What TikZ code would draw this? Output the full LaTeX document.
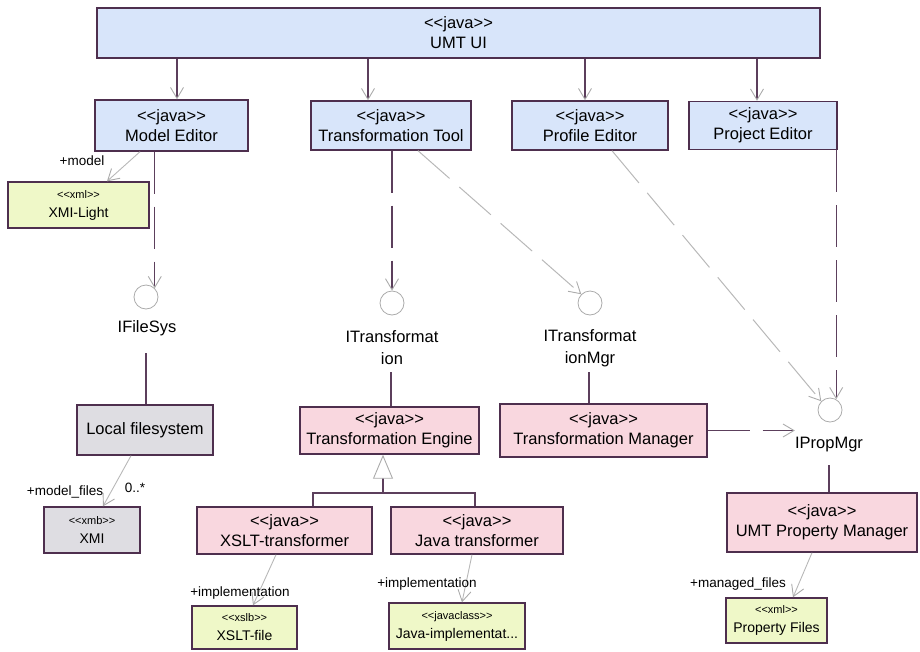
\documentclass[tikz,border=0pt]{standalone}
\usepackage{fontspec}
\setmainfont{Liberation Sans}[Ligatures=TeXOff]
\usetikzlibrary{arrows.meta,calc}

\definecolor{edge}{HTML}{4E2F4E}
\definecolor{link}{HTML}{5C3F5C}
\definecolor{tipgray}{HTML}{ABABAB}
\definecolor{assocgray}{HTML}{B8B8B8}
\definecolor{javablue}{HTML}{D8E5FA}
\definecolor{implpink}{HTML}{F9D7DF}
\definecolor{sysgray}{HTML}{DEDDE2}
\definecolor{filegreen}{HTML}{EFF8C8}

\newcommand\smallstereo[1]{{\fontsize{11}{12}\selectfont #1}}

\tikzset{
  cls/.style={draw=edge, line width=1.4pt, inner sep=0pt, align=center,
    font=\fontsize{16.5}{20}\selectfont},
  uibox/.style={cls, fill=javablue},
  implbox/.style={cls, fill=implpink},
  sysbox/.style={cls, fill=sysgray},
  artbox/.style={cls, fill=filegreen, font=\fontsize{14}{19}\selectfont},
  iface/.style={circle, draw=tipgray, line width=0.8pt, minimum size=24pt, inner sep=0pt},
  ilabel/.style={font=\fontsize{16.5}{22}\selectfont, align=center, inner sep=0pt},
  rolelabel/.style={font=\fontsize{13.5}{14}\selectfont, inner sep=0pt},
  barb/.style={-{Straight Barb[length=11pt, width=13pt, color=tipgray, line width=0.9pt]}},
  dep/.style={draw=link, line width=1.3pt, dash pattern=on 42pt off 13pt, barb},
  deplight/.style={dep, draw=assocgray, line width=1pt},
  assoc/.style={draw=assocgray, line width=0.9pt, barb},
  stem/.style={draw=link, line width=1.3pt},
  gen/.style={stem, -{Triangle[open, length=24pt, width=20pt, color=tipgray, fill=white, line width=0.9pt]}}
}

\begin{document}
\begin{tikzpicture}[x=1pt, y=-1pt]
\useasboundingbox (0,0) rectangle (920,651);

% top-level UI and the editors
\node[uibox, minimum width=723pt, minimum height=50pt] (umtui) at (458.5,33) {<<java>>\\UMT UI};
\node[uibox, minimum width=153pt, minimum height=51pt] (model) at (171.5,125.5) {<<java>>\\Model Editor};
\node[uibox, minimum width=160pt, minimum height=49pt] (ttool) at (391,125.5) {<<java>>\\Transformation Tool};
\node[uibox, minimum width=156pt, minimum height=49pt] (profile) at (590,125.5) {<<java>>\\Profile Editor};
\node[uibox, minimum width=148pt, minimum height=48pt] (project) at (763,125.5) {<<java>>\\Project Editor};

% artifacts
\node[artbox, minimum width=141pt, minimum height=46pt] (xmilight) at (78.5,205) {\smallstereo{<<xml>>}\\XMI-Light};
\node[sysbox, minimum width=96pt, minimum height=46pt, font=\fontsize{14}{19}\selectfont] (xmi) at (92,530) {\smallstereo{<<xmb>>}\\XMI};
\node[artbox, minimum width=105pt, minimum height=43pt] (xsltfile) at (244.5,627.5) {\smallstereo{<<xslb>>}\\XSLT-file};
\node[artbox, minimum width=136pt, minimum height=46pt] (javaimpl) at (457,626) {\smallstereo{<<javaclass>>}\\Java-implementat...};
\node[artbox, minimum width=101pt, minimum height=45pt] (propfiles) at (776.5,620.5) {\smallstereo{<<xml>>}\\Property Files};

% implementation classes
\node[sysbox, minimum width=136pt, minimum height=50pt] (local) at (145,430) {Local filesystem};
\node[implbox, minimum width=179pt, minimum height=47pt] (engine) at (389.5,430.5) {<<java>>\\Transformation Engine};
\node[implbox, minimum width=175pt, minimum height=47pt] (xslt) at (284.5,530.5) {<<java>>\\XSLT-transformer};
\node[implbox, minimum width=172pt, minimum height=47pt] (javat) at (477,530.5) {<<java>>\\Java transformer};
\node[implbox, minimum width=207pt, minimum height=53pt] (tmgr) at (603.5,430.5) {<<java>>\\Transformation Manager};
\node[implbox, minimum width=190pt, minimum height=59pt] (umtpm) at (822,522.5) {<<java>>\\UMT Property Manager};

% interfaces (lollipops) and their names
\node[iface] (ifs) at (146,297) {};
\node[iface] (itr) at (392,303) {};
\node[iface] (itrm) at (590,303) {};
\node[iface] (ipm) at (830,410) {};
\node[ilabel] (ifslbl) at (147,328) {IFileSys};
\node[ilabel] (itrlbl) at (392,348) {ITransformat\\ion};
\node[ilabel] (itrmlbl) at (590,348) {ITransformat\\ionMgr};
\node[ilabel] (ipmlbl) at (829,445) {IPropMgr};

% UI depends on the editors
\coordinate (mtop) at ([xshift=5.5pt]model.north);
\coordinate (ttop) at ([xshift=-23pt]ttool.north);
\coordinate (ptop) at ([xshift=-5pt]profile.north);
\coordinate (jtop) at ([xshift=-6pt]project.north);
\draw[dep] (umtui.south -| mtop) -- (mtop);
\draw[dep] (umtui.south -| ttop) -- (ttop);
\draw[dep] (umtui.south -| ptop) -- (ptop);
\draw[dep] (umtui.south -| jtop) -- (jtop);

% dependencies on interfaces
\draw[dep] (model.south -| ifs.45) -- (ifs.45);
\draw[dep] (ttool.south -| itr.north) -- (itr.north);
\draw[deplight] ([xshift=27pt]ttool.south) -- (itrm.135);
\draw[deplight] ([xshift=22pt]profile.south) -- (ipm.135);
\draw[dep] (project.south -| ipm.60) -- (ipm.60);
\draw[dep] (tmgr.east) -- (tmgr.east -| ipmlbl.west);

% interface realisations
\coordinate (ifsstem) at (146,353);
\coordinate (itrstem) at (391,372);
\coordinate (itrmstem) at (589,372);
\coordinate (ipmstem) at (829,465);
\draw[stem] (ifsstem) -- (local.north -| ifsstem);
\draw[stem] (itrstem) -- (engine.north -| itrstem);
\draw[stem] (itrmstem) -- (tmgr.north -| itrmstem);
\draw[stem] (ipmstem) -- (umtpm.north -| ipmstem);

% generalisation of the transformers
\coordinate (gj) at (383,493);
\draw[stem] ([xshift=28.5pt]xslt.north) |- (gj) -| ([xshift=-2pt]javat.north);
\draw[gen] (gj) -- ([xshift=-6.5pt]engine.south);

% associations to artifacts
\draw[assoc] ([xshift=-31.5pt]model.south) -- ([xshift=28.5pt]xmilight.north);
\draw[assoc] ([xshift=-14pt]local.south) -- ([xshift=11pt]xmi.north);
\draw[assoc] ([xshift=-8.5pt]xslt.south) -- ([xshift=8.5pt]xsltfile.north);
\draw[assoc] ([xshift=-5pt]javat.south) -- ([xshift=5pt]javaimpl.north);
\draw[assoc] ([xshift=-10pt]umtpm.south) -- ([xshift=16.5pt]propfiles.north);

% role names and multiplicities
\node[rolelabel] (rmodel) at (82,161) {+model};
\node[rolelabel] (rfiles) at (65,492) {+model\_files};
\node[rolelabel] (rmult) at (135,488) {0..*};
\node[rolelabel] (rimpl1) at (240,593) {+implementation};
\node[rolelabel] (rimpl2) at (427,584) {+implementation};
\node[rolelabel] (rmanaged) at (738,584) {+managed\_files};
\end{tikzpicture}
\end{document}
